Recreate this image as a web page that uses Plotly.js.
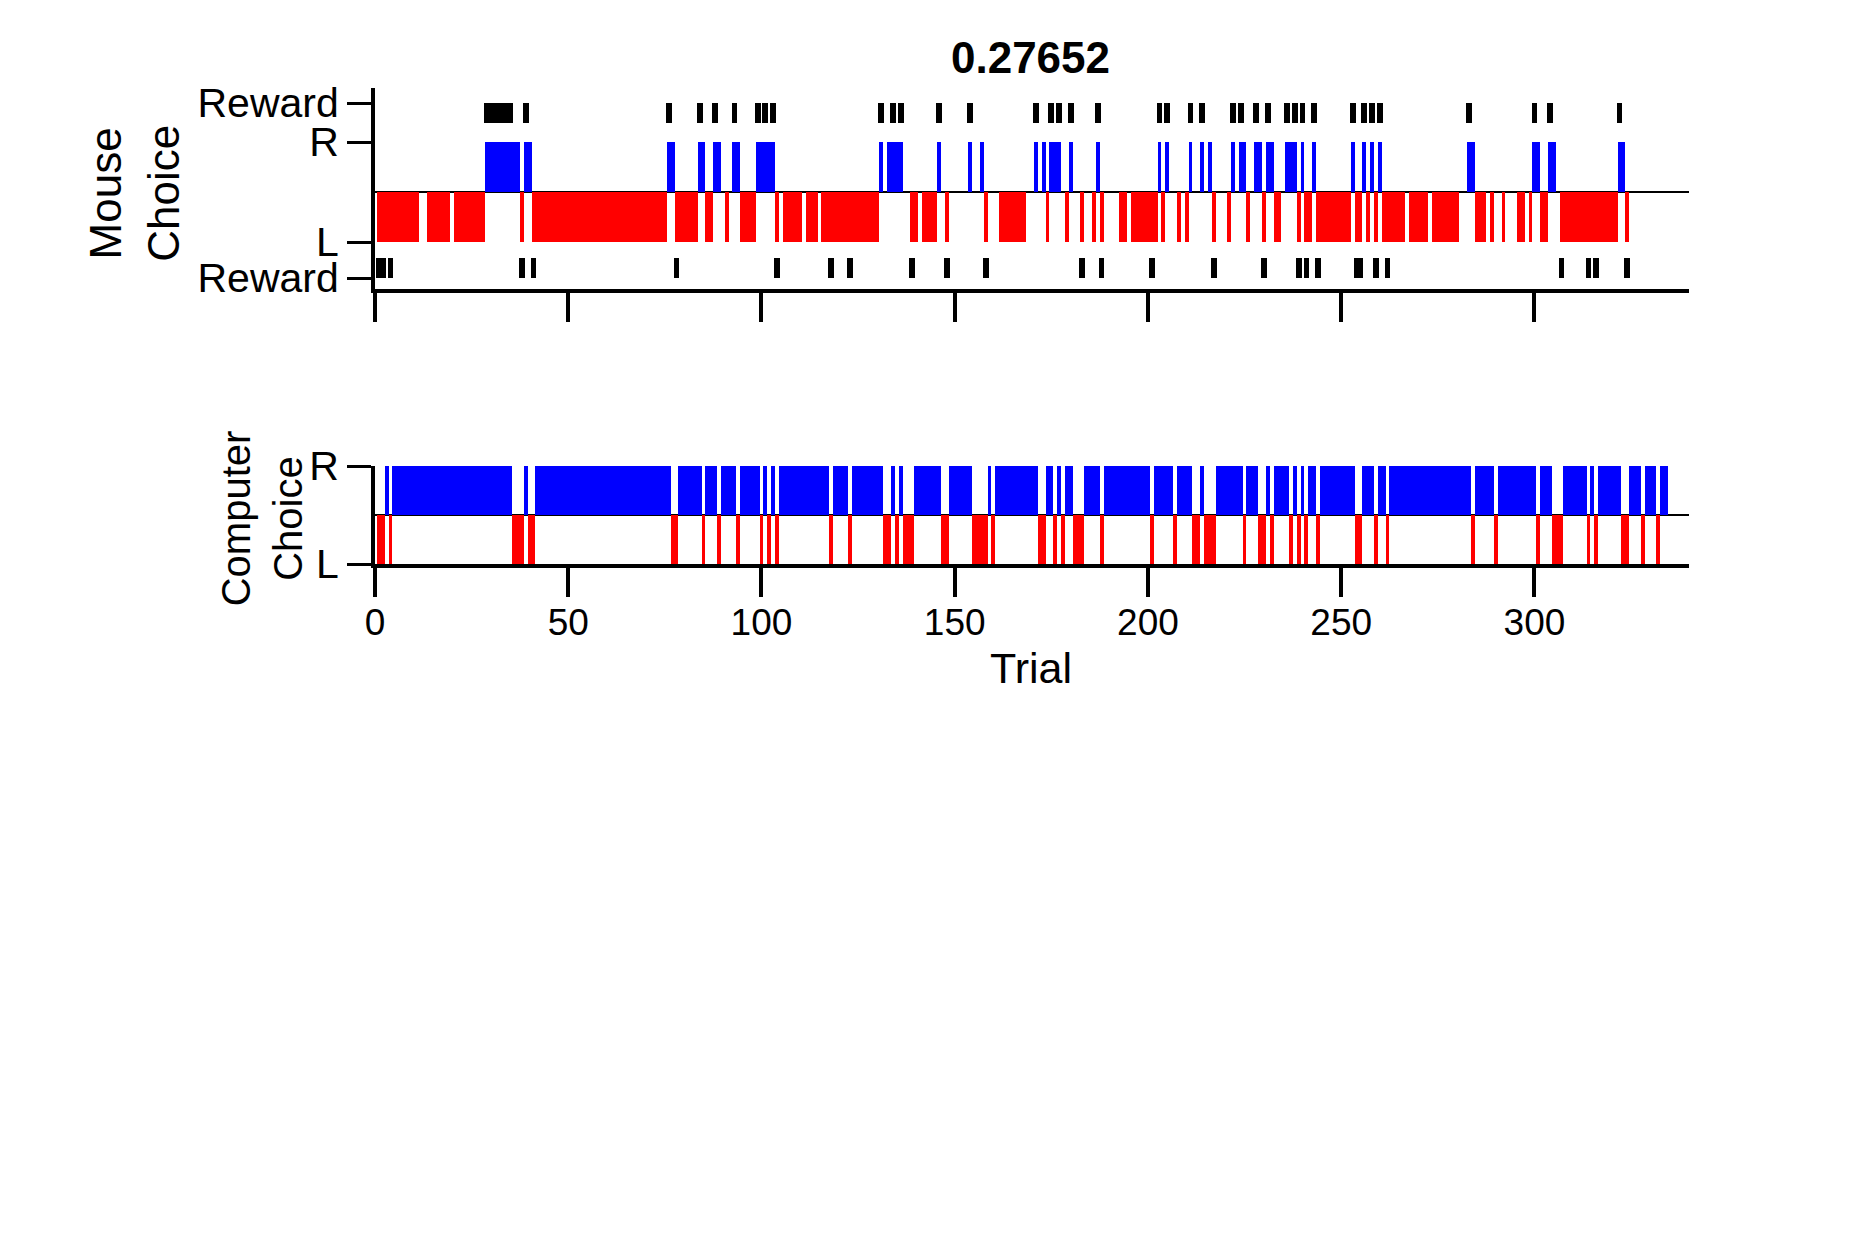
<!DOCTYPE html>
<html><head><meta charset="utf-8">
<script src="https://cdn.plot.ly/plotly-3.0.1.min.js"></script>
<style>body{margin:0;background:#fff}#c{width:1875px;height:1250px}</style>
</head><body><div id="c"></div>
<script>
// Trial runs [first,last]
const mouseR = [[29,37],[39,40],[76,77],[84,85],[88,89],[93,94],[99,103],[131,131],[133,136],[146,146],[154,154],[157,157],[171,171],[173,173],[175,177],[180,180],[187,187],[203,203],[205,205],[211,211],[214,214],[216,216],[222,222],[224,225],[228,229],[231,232],[236,238],[240,240],[243,243],[253,253],[256,256],[258,258],[260,260],[283,284],[300,301],[304,305],[322,323]];
const mouseL = [[1,11],[14,19],[21,28],[38,38],[41,75],[78,83],[86,87],[91,91],[95,98],[104,104],[106,110],[112,114],[116,130],[139,140],[142,145],[148,148],[158,158],[162,168],[174,174],[179,179],[183,183],[186,186],[188,188],[193,194],[196,202],[204,204],[208,208],[210,210],[217,217],[221,221],[226,226],[230,230],[233,234],[239,239],[241,242],[244,252],[254,255],[257,257],[259,259],[261,266],[268,272],[274,280],[285,287],[289,289],[292,292],[296,297],[299,299],[302,303],[307,321],[324,324]];
const rewardR = [29,30,31,32,33,34,35,39,76,84,88,93,99,101,103,131,134,136,146,154,171,175,177,180,187,203,205,211,214,222,224,228,231,236,238,240,243,253,256,258,260,283,300,304,322];
const rewardL = [1,2,4,38,41,78,104,118,123,139,148,158,183,188,201,217,230,239,241,244,254,255,259,262,307,314,316,324];
const compR = [[3,3],[5,35],[39,39],[42,76],[79,84],[86,88],[90,93],[95,99],[101,101],[103,103],[105,117],[119,122],[124,131],[134,134],[136,136],[140,146],[149,154],[159,159],[161,171],[174,175],[177,177],[179,180],[184,187],[189,200],[202,206],[208,211],[214,214],[218,224],[226,228],[231,231],[233,236],[238,238],[240,240],[242,243],[245,253],[256,258],[260,261],[263,283],[285,289],[291,300],[302,304],[308,313],[315,315],[317,322],[325,327],[329,331],[333,334]];
const compL = [[1,2],[4,4],[36,38],[40,41],[77,78],[85,85],[89,89],[94,94],[100,100],[102,102],[104,104],[118,118],[123,123],[132,133],[135,135],[137,139],[147,148],[155,158],[160,160],[172,173],[176,176],[178,178],[181,183],[188,188],[201,201],[207,207],[212,213],[215,217],[225,225],[229,230],[232,232],[237,237],[239,239],[241,241],[244,244],[254,255],[259,259],[262,262],[284,284],[290,290],[301,301],[305,307],[314,314],[316,316],[323,324],[328,328],[332,332]];
const xTicks = [0,50,100,150,200,250,300];
const topTickVals = [-1.72,-1,1,1.78];
const topTickText = ['Reward','L','R','Reward'];

function expand(runs){const o=[];runs.forEach(r=>{for(let t=r[0];t<=r[1];t++)o.push(t);});return o;}
function bars(xs, base, h, color, w, xa, ya){
  return {type:'bar', x:xs, y:xs.map(()=>h), base:xs.map(()=>base), width:xs.map(()=>w),
    marker:{color:color, line:{width:0}}, xaxis:xa, yaxis:ya, hoverinfo:'x', showlegend:false};
}
const traces = [
  bars(expand(mouseR), 0, 1, '#0000ff', 1, 'x', 'y'),
  bars(expand(mouseL), 0, -1, '#ff0000', 1, 'x', 'y'),
  bars(rewardR, 1.38, 0.4, '#000000', 1.5, 'x', 'y'),
  bars(rewardL, -1.72, 0.4, '#000000', 1.5, 'x', 'y'),
  bars(expand(compR), 0, 1, '#0000ff', 1, 'x2', 'y2'),
  bars(expand(compL), 0, -1, '#ff0000', 1, 'x2', 'y2')
];
const F = 'Arial, "Liberation Sans", sans-serif';
const axX = {range:[0,340], showline:true, linewidth:4, linecolor:'#000', ticks:'outside', ticklen:29, tickwidth:4, tickcolor:'#000', tickvals:xTicks, showgrid:false, zeroline:false};
const layout = {
  width:1875, height:1250, margin:{l:0,r:0,t:0,b:0}, paper_bgcolor:'#fff', plot_bgcolor:'rgba(0,0,0,0)',
  barmode:'overlay', bargap:0, font:{family:F, color:'#000', size:38},
  title:{text:'<b>0.27652</b>', x:0.5496, xanchor:'center', y:0.9536, yanchor:'middle', font:{size:44, family:F}},
  xaxis: Object.assign({}, axX, {domain:[0.2,0.9008], anchor:'y', showticklabels:false}),
  yaxis: {domain:[0.7688,0.9296], range:[-1.94,2.08], anchor:'x', showline:true, linewidth:4, linecolor:'#000', ticks:'outside', ticklen:24, tickwidth:3, tickcolor:'#000', tickvals:topTickVals, ticktext:topTickText, showgrid:false, zeroline:true, zerolinecolor:'#000', zerolinewidth:1.5, tickfont:{size:41}},
  xaxis2: Object.assign({}, axX, {domain:[0.2,0.9008], anchor:'y2', tickfont:{size:37}, ticklabelstandoff:-6}),
  yaxis2: {domain:[0.5488,0.6272], range:[-1,1], anchor:'x2', showline:true, linewidth:4, linecolor:'#000', ticks:'outside', ticklen:24, tickwidth:3, tickcolor:'#000', tickvals:[-1,1], ticktext:['L','R'], showgrid:false, zeroline:true, zerolinecolor:'#000', zerolinewidth:1.5, tickfont:{size:41}},
  annotations:[
    {text:'Mouse<br>Choice', xref:'paper', yref:'paper', x:0.0715, y:0.845, textangle:-90, showarrow:false, font:{size:44, family:F}, xanchor:'center', yanchor:'middle'},
    {text:'Computer<br>Choice', xref:'paper', yref:'paper', x:0.1395, y:0.585, textangle:-90, showarrow:false, font:{size:40, family:F}, xanchor:'center', yanchor:'middle'},
    {text:'Trial', xref:'paper', yref:'paper', x:0.5496, y:0.4656, showarrow:false, font:{size:43, family:F}, xanchor:'center', yanchor:'middle'}
  ]
};
Plotly.newPlot('c', traces, layout, {staticPlot:true});
</script></body></html>
